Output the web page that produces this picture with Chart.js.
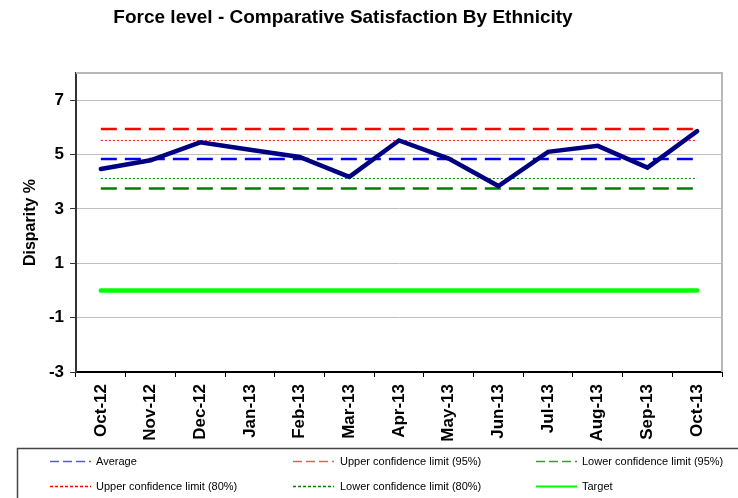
<!DOCTYPE html>
<html><head><meta charset="utf-8">
<script src="https://cdn.jsdelivr.net/npm/chart.js@4/dist/chart.umd.min.js"></script>
<style>html,body{margin:0;padding:0;background:#fff}#wrap{position:relative;width:738px;height:498px}</style>
</head><body><div id="wrap"><canvas id="c" width="738" height="498"></canvas></div>
<script>
const chartTitle = 'Force level - Comparative Satisfaction By Ethnicity';
const yAxisTitle = 'Disparity %';
const categories = ['Oct-12','Nov-12','Dec-12','Jan-13','Feb-13','Mar-13','Apr-13','May-13','Jun-13','Jul-13','Aug-13','Sep-13','Oct-13'];
const disparity = [4.47, 4.79, 5.45, 5.18, 4.91, 4.18, 5.52, 4.85, 3.84, 5.10, 5.32, 4.52, 5.86];
const average   = [4.84, 4.84, 4.84, 4.84, 4.84, 4.84, 4.84, 4.84, 4.84, 4.84, 4.84, 4.84, 4.84];
const upper95   = [5.94, 5.94, 5.94, 5.94, 5.94, 5.94, 5.94, 5.94, 5.94, 5.94, 5.94, 5.94, 5.94];
const lower95   = [3.75, 3.75, 3.75, 3.75, 3.75, 3.75, 3.75, 3.75, 3.75, 3.75, 3.75, 3.75, 3.75];
const upper80   = [5.52, 5.52, 5.52, 5.52, 5.52, 5.52, 5.52, 5.52, 5.52, 5.52, 5.52, 5.52, 5.52];
const lower80   = [4.12, 4.12, 4.12, 4.12, 4.12, 4.12, 4.12, 4.12, 4.12, 4.12, 4.12, 4.12, 4.12];
const target    = [0, 0, 0, 0, 0, 0, 0, 0, 0, 0, 0, 0, 0];
const yTicks = [-3, -1, 1, 3, 5, 7];
const yMin = -3, yMax = 8;

const FONT = "Arial, 'Liberation Sans', sans-serif";

const datasets = [
  {label:'Disparity', data:disparity, borderColor:'#000080', borderWidth:4.5, borderCapStyle:'round', legend:null},
  {label:'Average', data:average, borderColor:'#0000FF', borderWidth:2.5, borderDash:[16,8], legend:{col:0,row:0,color:'#5555ff',dash:[9,4]}},
  {label:'Upper confidence limit (95%)', data:upper95, borderColor:'#FF0000', borderWidth:2.5, borderDash:[16,8], legend:{col:1,row:0,color:'#ff5555',dash:[9,4]}},
  {label:'Lower confidence limit (95%)', data:lower95, borderColor:'#008000', borderWidth:2.5, borderDash:[16,8], legend:{col:2,row:0,color:'#3a9a3a',dash:[9,4]}},
  {label:'Upper confidence limit (80%)', data:upper80, borderColor:'#FF0000', borderWidth:1, borderDash:[2,2], legend:{col:0,row:1,color:'#ff0000',dash:[3,2]}},
  {label:'Lower confidence limit (80%)', data:lower80, borderColor:'#008000', borderWidth:1, borderDash:[2,2], legend:{col:1,row:1,color:'#008000',dash:[3,2]}},
  {label:'Target', data:target, borderColor:'#00FF00', borderWidth:4.5, borderCapStyle:'round', legend:{col:2,row:1,color:'#00ff00',dash:[]}}
];
datasets.forEach(d => { d.pointRadius = 0; d.pointHoverRadius = 0; d.fill = false; d.tension = 0; });

const decor = {
  id:'decor',
  beforeDatasetsDraw(chart){
    const {ctx, chartArea:a} = chart;
    ctx.save();
    ctx.strokeStyle = '#b8b8b8'; ctx.lineWidth = 2;
    ctx.beginPath();
    ctx.moveTo(a.left, a.top); ctx.lineTo(a.right, a.top); ctx.lineTo(a.right, a.bottom);
    ctx.stroke();
    ctx.restore();
  },
  afterDraw(chart){
    const ctx = chart.ctx;
    ctx.save();
    ctx.fillStyle = '#000';
    ctx.font = 'bold 19px ' + FONT;
    ctx.textAlign = 'center'; ctx.textBaseline = 'middle';
    ctx.fillText(chartTitle, 343, 18);
    ctx.strokeStyle = '#444'; ctx.lineWidth = 1.5;
    ctx.strokeRect(17.5, 448.5, 740, 60);
    const colLine = [50, 293, 536];
    const colText = [96, 340, 582];
    const rowY = [461.5, 486.5];
    ctx.font = '11px ' + FONT;
    ctx.textAlign = 'left';
    chart.data.datasets.forEach(d => {
      const L = d.legend; if (!L) return;
      const y = rowY[L.row];
      ctx.strokeStyle = L.color;
      ctx.lineWidth = L.dash.length ? 1.5 : 2;
      ctx.setLineDash(L.dash);
      ctx.beginPath();
      ctx.moveTo(colLine[L.col], y); ctx.lineTo(colLine[L.col] + 41, y);
      ctx.stroke();
      ctx.setLineDash([]);
      ctx.fillStyle = '#000';
      ctx.fillText(d.label, colText[L.col], y);
    });
    ctx.restore();
  }
};

new Chart(document.getElementById('c'), {
  type:'line',
  data:{labels:categories, datasets:datasets},
  options:{
    responsive:false, animation:false, devicePixelRatio:1,
    layout:{padding:{top:73, right:16, bottom:49, left:0}},
    plugins:{legend:{display:false}, title:{display:false}, tooltip:{enabled:false}},
    scales:{
      x:{
        type:'category', offset:true,
        grid:{drawOnChartArea:false, drawTicks:true, tickLength:5, color:'#000', tickColor:'#000', offset:true},
        border:{color:'#000', width:2},
        ticks:{font:{family:FONT, size:17, weight:'bold'}, color:'#000', minRotation:90, maxRotation:90, padding:7, autoSkip:false},
        afterFit(s){ s.height = 77; }
      },
      y:{
        min:yMin, max:yMax,
        afterBuildTicks(s){ s.ticks = yTicks.map(v => ({value:v})); },
        grid:{color:'#c0c0c0', tickLength:6, tickColor:'#333', lineWidth:1},
        border:{color:'#333', width:2},
        ticks:{font:{family:FONT, size:17, weight:'bold'}, color:'#000', padding:6},
        title:{display:true, text:yAxisTitle, font:{family:FONT, size:16, weight:'bold'}, color:'#000', padding:{top:21, bottom:0}},
        afterFit(s){ s.width = 76; }
      }
    }
  },
  plugins:[decor]
});
</script></body></html>
